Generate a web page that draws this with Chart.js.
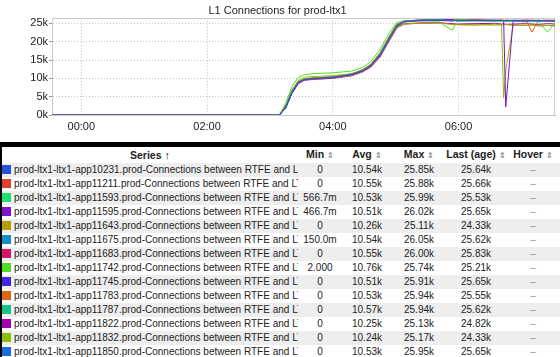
<!DOCTYPE html>
<html>
<head>
<meta charset="utf-8">
<script src="https://cdn.jsdelivr.net/npm/chart.js@4/dist/chart.umd.min.js"></script>
<style>
  html, body { margin: 0; padding: 0; background: #fff; }
  body { width: 560px; height: 357px; overflow: hidden; font-family: "Liberation Sans", Arial, Helvetica, sans-serif; }
  #chartBox { position: relative; width: 560px; height: 142px; }
  #bar { width: 560px; height: 5px; background: #000; }
  #tbl { border-left: 2px solid #000; width: 558px; height: 210px; overflow: hidden; }
  table { border-collapse: collapse; table-layout: fixed; width: 558px; font-size: 10px; color: #222; }
  th { font-weight: bold; font-size: 10.5px; height: 15px; padding: 0; text-align: center; background: #fff; white-space: nowrap; overflow: visible; line-height: 15px; }
  td { height: 14px; padding: 0; text-align: center; white-space: nowrap; overflow: hidden; line-height: 14px; }
  tr.odd td { background: #eeeeee; }
  td.name { text-align: left; }
  .nm { width: 296px; height: 14px; overflow: hidden; white-space: pre; }
  .sw { display: inline-block; width: 9px; height: 9px; margin: 0 3px 0 0; vertical-align: -1px; }
  .ic { font-size: 8px; color: #666; font-weight: normal; }
  .dash { color: #999; }
</style>
</head>
<body>
<div id="chartBox"><canvas id="c" width="560" height="142"></canvas></div>
<div id="bar"></div>
<div id="tbl"></div>
<script>
// ---- Data ----
const chartTitle = 'L1 Connections for prod-ltx1';
const xTickMinutes = [0, 120, 240, 360];
const xTickLabels = ['00:00', '02:00', '04:00', '06:00'];
const yTickValues = [0, 5000, 10000, 15000, 20000, 25000];
const yTickLabels = ['0k', '5k', '10k', '15k', '20k', '25k'];

// sample times in minutes after 00:00
const times = [-28, 189, 195, 201, 207, 213, 222, 240, 258, 268, 276, 285, 294, 301, 308, 320, 340, 354, 358, 375, 395, 401, 403, 405, 412, 425, 430, 436, 445, 452];

const hosts = ['app10231','app11211','app11593','app11595','app11643','app11675','app11683','app11742','app11745','app11783','app11787','app11822','app11832','app11850'];

const s10231 = [0,0,2000,6000,8700,9600,9900,10200,11000,12000,13300,16200,20800,24200,25400,25700,25750,25700,25800,25750,25800,25750,25700,25800,25750,25700,25800,25750,25700,25640];
const s11211 = [0,0,2300,6400,9000,9800,10000,10300,11100,12200,13600,16600,21200,24500,25500,25750,25800,25700,25850,25800,25750,25880,25800,25750,25800,25700,25750,25800,25700,25660];
const s11593 = [0,0,2600,6800,9200,9900,10100,10400,11200,12300,13800,17000,21600,24800,25600,25800,25850,25750,25990,25800,25700,25750,25700,25800,25650,25700,25600,25650,25550,25530];
const s11595 = [0,0,2100,6200,8800,9700,9900,10200,11000,12000,13400,16400,21000,24400,25500,25800,25900,26020,25800,25850,25800,25800,25700,2200,25600,25700,25750,25700,25650,25650];
const s11643 = [0,0,2200,6300,8800,9600,9800,10100,10800,11800,13100,16000,20500,23800,24800,25000,25110,24700,24600,24500,24800,24600,24500,24700,24400,24500,24600,24300,24400,24330];
const s11675 = [0,0,2000,6100,8700,9700,10000,10300,11000,12100,13500,16400,21000,24400,25500,25800,26050,25700,25750,25800,25700,25750,25800,25700,25750,25650,25700,25600,25650,25620];
const s11683 = [0,0,2400,6500,9000,9800,10100,10400,11100,12200,13700,16700,21300,24600,25600,25850,26000,25800,25850,25900,25800,25850,25750,25850,25800,25900,25850,25800,25850,25830];
const s11742 = [0,0,3200,7800,10200,11000,11300,11500,12000,12900,14500,17800,22400,25200,25700,25740,25600,23100,25500,25600,25500,25550,25600,25500,25550,25400,25500,25450,22600,25210];
const s11745 = [0,0,1900,6000,8600,9600,9900,10200,10900,11900,13300,16200,20800,24200,25400,25700,25800,25910,25750,25800,25850,25750,25800,25700,25800,25750,25700,25800,25700,25650];
const s11783 = [0,0,2300,6400,8900,9800,10000,10300,11000,12100,13500,16500,21100,24500,25500,25800,25900,25750,25800,25940,25700,25750,25800,25700,25750,25600,22600,25600,25650,25550];
const s11787 = [0,0,2500,6600,9100,9900,10100,10400,11200,12300,13700,16800,21400,24700,25600,25850,25940,25800,25850,25800,25750,25800,25700,25800,25750,25700,25650,25700,25650,25620];
const s11822 = [0,0,2000,6000,8600,9500,9700,10000,10700,11700,13000,15800,20300,23700,24800,25000,25130,24900,24800,24900,25000,24800,24900,24700,24800,24900,24800,24700,24900,24820];
const s11832 = [0,0,2600,6800,9400,10300,10500,10700,11300,12200,13500,16400,20900,24200,24900,25100,25170,24800,24700,24600,24500,24600,4600,12000,24500,24400,24500,24300,24400,24330];
const s11850 = [0,0,1900,5900,8600,9600,9900,10200,10900,11900,13200,16100,20700,24100,25400,25700,25950,25750,25800,25750,25700,25800,25750,25700,25800,25750,25700,25800,25700,25650];

const seriesValues = [s10231,s11211,s11593,s11595,s11643,s11675,s11683,s11742,s11745,s11783,s11787,s11822,s11832,s11850];

const minVals  = ['0','0','566.7m','466.7m','0','150.0m','0','2.000','0','0','0','0','0','0'];
const avgVals  = ['10.54k','10.55k','10.53k','10.51k','10.26k','10.54k','10.55k','10.76k','10.51k','10.53k','10.57k','10.25k','10.24k','10.53k'];
const maxVals  = ['25.85k','25.88k','25.99k','26.02k','25.11k','26.05k','26.00k','25.74k','25.91k','25.94k','25.94k','25.13k','25.17k','25.95k'];
const lastVals = ['25.64k','25.66k','25.53k','25.65k','24.33k','25.62k','25.83k','25.21k','25.65k','25.55k','25.62k','24.82k','24.33k','25.65k'];

// ---- Styles ----
const palette = ['#2453e0','#e2402f','#1fe070','#8010d0','#b3a000','#1590c4','#d8146e','#50e020','#4424e0','#e06614','#14c68e','#a400b0','#8cc000','#186de0'];

const fullName = h => 'prod-ltx1-ltx1-' + h + '.prod-Connections between RTFE and LTX1';

const datasets = seriesValues.map((vals, i) => ({
  label: fullName(hosts[i]),
  data: vals.map((v, j) => ({ x: times[j], y: v })),
  borderColor: palette[i],
  backgroundColor: palette[i],
  borderWidth: 1,
  pointRadius: 0,
  tension: 0,
  fill: false
}));

const boxPlugin = {
  id: 'box',
  beforeDatasetsDraw(chart) {
    const a = chart.chartArea, ctx = chart.ctx;
    ctx.save();
    ctx.strokeStyle = '#cccccc';
    ctx.lineWidth = 1;
    ctx.strokeRect(Math.round(a.left) + 0.5, Math.round(a.top) + 0.5, Math.round(a.right - a.left) - 1, Math.round(a.bottom - a.top));
    ctx.restore();
  }
};

const fontFam = '"Liberation Sans", Arial, Helvetica, sans-serif';

new Chart(document.getElementById('c'), {
  type: 'line',
  data: { datasets },
  plugins: [boxPlugin],
  options: {
    animation: false,
    responsive: false,
    devicePixelRatio: 1,
    layout: { padding: { top: 0, right: 5, left: 0, bottom: 0 } },
    plugins: {
      legend: { display: false },
      tooltip: { enabled: false },
      title: {
        display: true, text: chartTitle, color: '#222',
        font: { family: fontFam, size: 11, weight: 'normal' },
        padding: { top: 4, bottom: 1 }
      }
    },
    scales: {
      x: {
        type: 'linear', min: -28, max: 452,
        afterBuildTicks: s => { s.ticks = xTickMinutes.map(v => ({ value: v })); },
        afterFit: s => { s.height = 27; },
        ticks: {
          color: '#222', font: { family: fontFam, size: 11 }, padding: 5, maxRotation: 0,
          callback: v => { const k = xTickMinutes.indexOf(v); return k >= 0 ? xTickLabels[k] : ''; }
        },
        grid: { color: '#c4c4c4', drawTicks: false },
        border: { display: true, color: '#aaaaaa', dash: [1, 2] }
      },
      y: {
        type: 'linear', min: 0, max: 26400,
        afterBuildTicks: s => { s.ticks = yTickValues.map(v => ({ value: v })); },
        afterFit: s => { s.width = 52; },
        ticks: {
          color: '#222', font: { family: fontFam, size: 11 }, padding: 1,
          callback: v => { const k = yTickValues.indexOf(v); return k >= 0 ? yTickLabels[k] : ''; }
        },
        grid: { color: '#c4c4c4', drawTicks: true, tickLength: 3, tickColor: '#999' },
        border: { display: true, color: '#999999', dash: [1, 2] }
      }
    }
  }
});

// ---- Table ----
const colW = [296, 44, 50, 54, 60, 54];
let html = '<table><colgroup>' + colW.map(w => '<col style="width:' + w + 'px">').join('') + '</colgroup>';
html += '<tr><th>Series <span style="font-size:11px">&#8593;</span></th><th>Min <span class="ic">&#8661;</span></th><th>Avg <span class="ic">&#8661;</span></th><th>Max <span class="ic">&#8661;</span></th><th>Last (age) <span class="ic">&#8661;</span></th><th>Hover <span class="ic">&#8661;</span></th></tr>';
hosts.forEach((h, i) => {
  const shown = fullName(h).replace(/ /g, '\u00a0');
  html += '<tr class="' + (i % 2 === 0 ? 'odd' : 'even') + '">' +
    '<td class="name"><div class="nm"><span class="sw" style="background:' + palette[i] + '"></span>' + shown + '</div></td>' +
    '<td>' + minVals[i] + '</td><td>' + avgVals[i] + '</td><td>' + maxVals[i] + '</td><td>' + lastVals[i] + '</td>' +
    '<td class="dash">&ndash;</td></tr>';
});
html += '</table>';
document.getElementById('tbl').innerHTML = html;
</script>
</body>
</html>
